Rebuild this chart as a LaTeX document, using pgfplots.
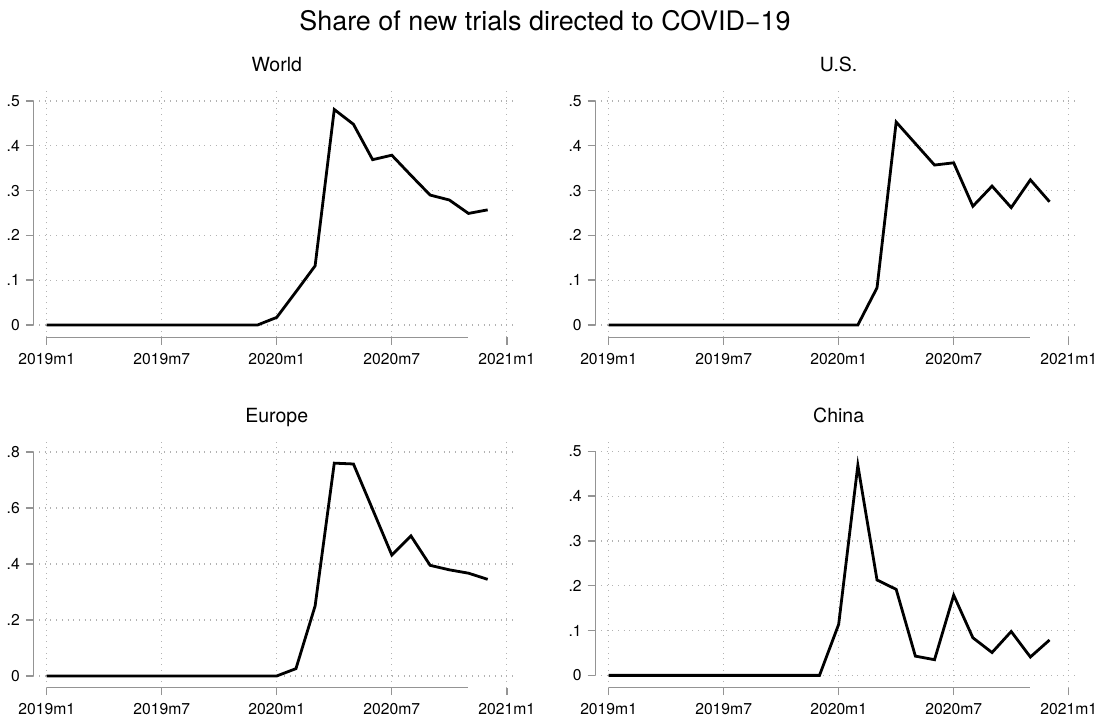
\documentclass[border=0pt]{standalone}
\usepackage{fontspec}
\setmainfont{TeX Gyre Heros}
\usepackage{pgfplots}
\pgfplotsset{compat=1.18}

\definecolor{axisgray}{gray}{0.58}
\definecolor{gridgray}{gray}{0.7}

% 1 px of the 1100x719 reference = 0.5bp
\pgfplotsset{
  panel/.style={
    scale only axis, width=241.55bp, height=123.75bp,
    xmin=-0.7, xmax=24.5,
    xtick={0,6,12,18,24},
    xticklabels={2019m1,2019m7,2020m1,2020m7,2021m1},
    axis lines*=left,
    axis line style={draw=none},
    tick align=outside,
    major tick length=3.75bp,
    tick style={axisgray, line width=0.7bp},
    grid=major,
    major grid style={gridgray, line width=0.6bp, dash pattern=on 0.5bp off 2.35bp},
    tick label style={font=\fontsize{7.85bp}{9bp}\selectfont, inner sep=0pt},
    xticklabel style={anchor=north, yshift=-4bp},
    yticklabel style={anchor=east, xshift=-2.8bp},
    title style={at={(0.504,1)}, anchor=base, yshift=3bp,
      font=\fontsize{9.75bp}{11bp}\selectfont, inner sep=0pt},
    clip=false,
  },
  small/.style={ymin=-0.0275, ymax=0.525,
    ytick={0,0.1,0.2,0.3,0.4,0.5}, yticklabels={0,.1,.2,.3,.4,.5}},
  series/.style={black, line width=1.4bp, mark=none},
}
\tikzset{axline/.style={axisgray, line width=0.7bp}}

\begin{document}
\begin{tikzpicture}
\path[use as bounding box] (0,0) rectangle (550bp,359.5bp);

\node[font=\fontsize{13.45bp}{15bp}\selectfont, anchor=base, inner sep=0pt]
  at (272.5bp,344bp) {Share of new trials directed to COVID−19};

% World
\begin{axis}[panel, small, title={World}, at={(16.65bp,190.85bp)}, anchor=south west]
\draw[axline] (axis cs:-0.7,0) -- (axis cs:-0.7,0.5);
\draw[axline] (axis cs:0,-0.0275) -- (axis cs:22,-0.0275);
\addplot[series] coordinates {
(0,0) (1,0) (2,0) (3,0) (4,0) (5,0) (6,0) (7,0) (8,0) (9,0) (10,0) (11,0)
(12,0.017) (13,0.074) (14,0.132) (15,0.481) (16,0.448) (17,0.369)
(18,0.379) (19,0.334) (20,0.290) (21,0.279) (22,0.249) (23,0.257)};
\end{axis}

% U.S.
\begin{axis}[panel, small, title={U.S.}, at={(297.6bp,190.85bp)}, anchor=south west]
\draw[axline] (axis cs:-0.7,0) -- (axis cs:-0.7,0.5);
\draw[axline] (axis cs:0,-0.0275) -- (axis cs:22,-0.0275);
\addplot[series] coordinates {
(0,0) (1,0) (2,0) (3,0) (4,0) (5,0) (6,0) (7,0) (8,0) (9,0) (10,0) (11,0)
(12,0) (13,0) (14,0.083) (15,0.453) (16,0.405) (17,0.357)
(18,0.362) (19,0.265) (20,0.310) (21,0.262) (22,0.324) (23,0.275)};
\end{axis}

% Europe
\begin{axis}[panel, title={Europe}, at={(16.65bp,15.65bp)}, anchor=south west,
  ymin=-0.042, ymax=0.842,
  ytick={0,0.2,0.4,0.6,0.8}, yticklabels={0,.2,.4,.6,.8}]
\draw[axline] (axis cs:-0.7,0) -- (axis cs:-0.7,0.8);
\draw[axline] (axis cs:0,-0.042) -- (axis cs:22,-0.042);
\addplot[series] coordinates {
(0,0) (1,0) (2,0) (3,0) (4,0) (5,0) (6,0) (7,0) (8,0) (9,0) (10,0) (11,0)
(12,0) (13,0.026) (14,0.250) (15,0.760) (16,0.757) (17,0.595)
(18,0.432) (19,0.500) (20,0.395) (21,0.379) (22,0.367) (23,0.345)};
\end{axis}

% China
\begin{axis}[panel, small, title={China}, at={(297.6bp,15.65bp)}, anchor=south west]
\draw[axline] (axis cs:-0.7,0) -- (axis cs:-0.7,0.5);
\draw[axline] (axis cs:0,-0.0275) -- (axis cs:22,-0.0275);
\addplot[series] coordinates {
(0,0) (1,0) (2,0) (3,0) (4,0) (5,0) (6,0) (7,0) (8,0) (9,0) (10,0) (11,0)
(12,0.114) (13,0.469) (14,0.213) (15,0.192) (16,0.043) (17,0.035)
(18,0.179) (19,0.084) (20,0.051) (21,0.098) (22,0.041) (23,0.079)};
\end{axis}
\end{tikzpicture}
\end{document}
